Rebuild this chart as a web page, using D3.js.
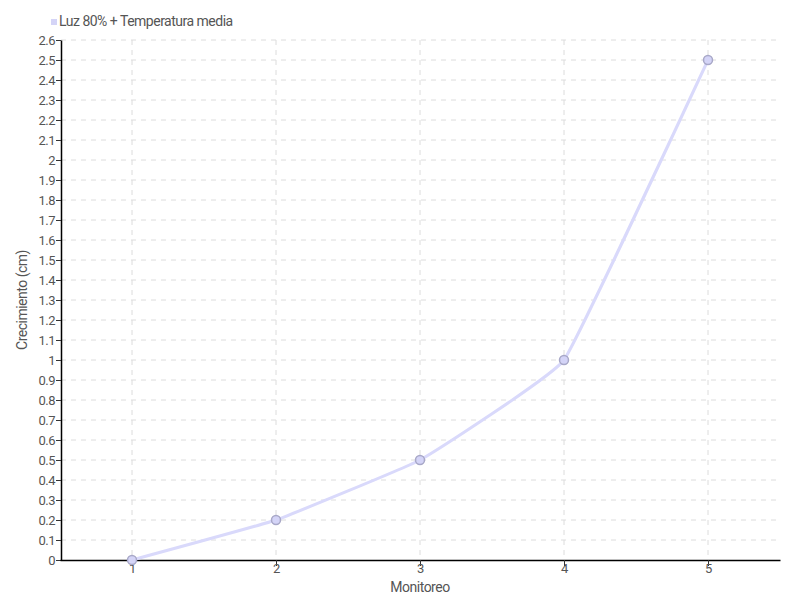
<!DOCTYPE html>
<html>
<head>
<meta charset="utf-8">
<script src="https://cdn.jsdelivr.net/npm/d3@7"></script>
<style>
body { margin: 0; background: #fff; }
text { font-family: Roboto, "Liberation Sans", sans-serif; letter-spacing: -0.5px; }
</style>
</head>
<body>
<svg id="chart" width="800" height="600"></svg>
<script>
// data
var monitoreo = [1, 2, 3, 4, 5];
var crecimiento = [0, 0.2, 0.5, 1, 2.5];
var seriesName = "Luz 80% + Temperatura media";
var yTicks = d3.range(0, 27).map(function(i) { return i / 10; });

var svg = d3.select("#chart"),
    mLeft = 61, mRight = 780, mTop = 40, mBottom = 560;

var x = d3.scaleLinear().domain([0.5, 5.5]).range([mLeft - 1, mRight]);
var y = d3.scaleLinear().domain([0, 2.6]).range([mBottom, mTop]);

// grid
svg.append("g").selectAll("line")
    .data(yTicks.slice(1))
    .enter().append("line")
    .attr("x1", mLeft).attr("x2", mRight)
    .attr("y1", function(d) { return y(d); })
    .attr("y2", function(d) { return y(d); })
    .attr("stroke", "#dcdcdc")
    .attr("stroke-dasharray", "5,5");

svg.append("g").selectAll("line")
    .data(monitoreo)
    .enter().append("line")
    .attr("x1", function(d) { return x(d); })
    .attr("x2", function(d) { return x(d); })
    .attr("y1", mTop).attr("y2", mBottom)
    .attr("stroke", "#dcdcdc")
    .attr("stroke-dasharray", "5,5");

// axes
var yAxis = svg.append("g")
    .attr("transform", "translate(" + mLeft + ",0)")
    .call(d3.axisLeft(y).tickValues(yTicks).tickSize(5).tickSizeOuter(0).tickFormat(d3.format("~g")));
var xAxis = svg.append("g")
    .attr("transform", "translate(0," + mBottom + ")")
    .call(d3.axisBottom(x).tickValues(monitoreo).tickSize(6).tickSizeOuter(0).tickFormat(d3.format("d")));

[yAxis, xAxis].forEach(function(a) {
    a.select(".domain").attr("stroke", "#000").attr("stroke-width", 1.5);
    a.selectAll(".tick line").attr("stroke", "#333");
    a.selectAll(".tick text").attr("fill", "#555").style("font-size", "13px");
});
yAxis.selectAll(".tick text").attr("x", -6);
xAxis.selectAll(".tick text").attr("y", 4);

// line
var line = d3.line()
    .x(function(d, i) { return x(monitoreo[i]); })
    .y(function(d) { return y(d); })
    .curve(d3.curveCardinal.tension(0.75));

svg.append("path")
    .datum(crecimiento)
    .attr("d", line)
    .attr("fill", "none")
    .attr("stroke", "#d9d9fb")
    .attr("stroke-width", 3);

svg.append("g").selectAll("circle")
    .data(crecimiento)
    .enter().append("circle")
    .attr("cx", function(d, i) { return x(monitoreo[i]); })
    .attr("cy", function(d) { return y(d); })
    .attr("r", 4.5)
    .attr("fill", "#d4d4f7")
    .attr("stroke", "#a8a8c8")
    .attr("stroke-width", 1.5);

// axis titles
svg.append("text")
    .attr("x", 420).attr("y", 592)
    .attr("text-anchor", "middle")
    .attr("fill", "#555")
    .style("font-size", "14px")
    .text("Monitoreo");

svg.append("text")
    .attr("transform", "translate(27,300) rotate(-90)")
    .attr("text-anchor", "middle")
    .attr("fill", "#555")
    .style("font-size", "14px")
    .text("Crecimiento (cm)");

// legend
svg.append("rect")
    .attr("x", 51).attr("y", 19)
    .attr("width", 6).attr("height", 6)
    .attr("fill", "#d4d4f7");
svg.append("text")
    .attr("x", 59).attr("y", 26)
    .attr("fill", "#555")
    .style("font-size", "14px")
    .text(seriesName);
</script>
</body>
</html>
